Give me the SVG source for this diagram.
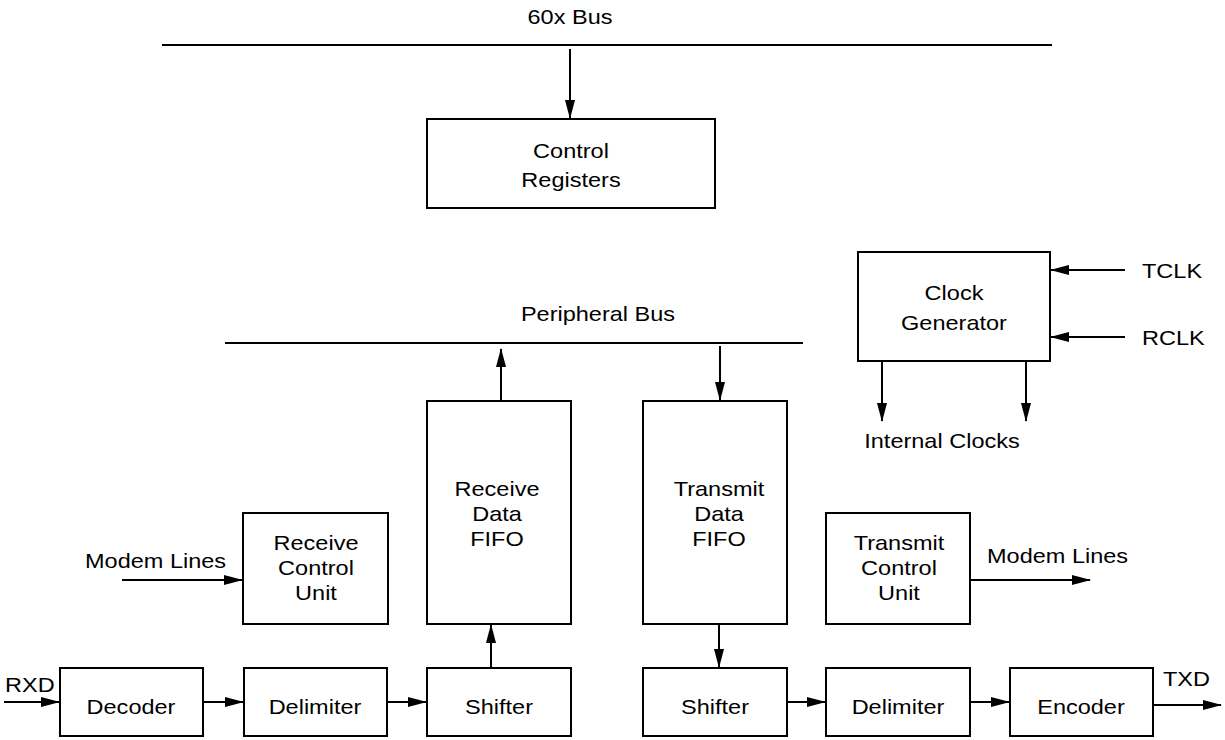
<svg xmlns="http://www.w3.org/2000/svg" width="1225" height="740" viewBox="0 0 1225 740">
<style>
.n{fill:#fff;stroke:#000;stroke-width:2}
line{stroke:#000;stroke-width:2}
.a{marker-end:url(#ah)}
text{font-family:"Liberation Sans",Arial,sans-serif;font-size:21px;fill:#000}
.c{text-anchor:middle}
</style>
<defs>
<marker id="ah" markerWidth="19" markerHeight="10" refX="18" refY="5" orient="auto" markerUnits="userSpaceOnUse">
<path d="M0,0 L19,5 L0,10 Z" fill="#000"/>
</marker>
</defs>
<rect width="1225" height="740" fill="#fff"/>
<g id="connectors">
<line x1="162" y1="45" x2="1052" y2="45"/>
<line class="a" x1="570" y1="49" x2="570" y2="118"/>
<line x1="225" y1="343" x2="803" y2="343"/>
<line class="a" x1="501" y1="401" x2="501" y2="349"/>
<line class="a" x1="720" y1="346" x2="720" y2="400"/>
<line class="a" x1="1125" y1="270" x2="1051" y2="270"/>
<line class="a" x1="1125" y1="337" x2="1051" y2="337"/>
<line class="a" x1="882" y1="361" x2="882" y2="421"/>
<line class="a" x1="1026" y1="361" x2="1026" y2="421"/>
<line class="a" x1="122" y1="580" x2="242" y2="580"/>
<line class="a" x1="970" y1="580" x2="1090" y2="580"/>
<line class="a" x1="4" y1="702" x2="59" y2="702"/>
<line class="a" x1="203" y1="702" x2="243" y2="702"/>
<line class="a" x1="387" y1="702" x2="426" y2="702"/>
<line class="a" x1="491" y1="668" x2="491" y2="625"/>
<line class="a" x1="719" y1="624" x2="719" y2="667"/>
<line class="a" x1="787" y1="702" x2="825" y2="702"/>
<line class="a" x1="970" y1="702" x2="1009" y2="702"/>
<line class="a" x1="1153" y1="705" x2="1221" y2="705"/>
</g>
<g id="labels">
<text class="c" transform="translate(570,24) scale(1.12,1)">60x Bus</text>
<text class="c" transform="translate(598,321) scale(1.12,1)">Peripheral Bus</text>
<text transform="translate(1142,278) scale(1.12,1)">TCLK</text>
<text transform="translate(1142,345) scale(1.12,1)">RCLK</text>
<text class="c" transform="translate(942,448) scale(1.12,1)">Internal Clocks</text>
<text transform="translate(85,568) scale(1.12,1)">Modem Lines</text>
<text transform="translate(987,563) scale(1.12,1)">Modem Lines</text>
<text transform="translate(5,692) scale(1.12,1)">RXD</text>
<text transform="translate(1163,686) scale(1.12,1)">TXD</text>
</g>
<g id="control-registers"><rect class="n" x="427" y="119" width="288" height="89"/><text class="c" transform="translate(571,158) scale(1.12,1)">Control</text><text class="c" transform="translate(571,187) scale(1.12,1)">Registers</text></g>
<g id="clock-generator"><rect class="n" x="858" y="252" width="192" height="109"/><text class="c" transform="translate(954,300) scale(1.12,1)">Clock</text><text class="c" transform="translate(954,330) scale(1.12,1)">Generator</text></g>
<g id="receive-fifo"><rect class="n" x="427" y="401" width="144" height="223"/><text class="c" transform="translate(497,496) scale(1.12,1)">Receive</text><text class="c" transform="translate(497,521) scale(1.12,1)">Data</text><text class="c" transform="translate(497,546) scale(1.12,1)">FIFO</text></g>
<g id="transmit-fifo"><rect class="n" x="643" y="401" width="144" height="223"/><text class="c" transform="translate(719,496) scale(1.12,1)">Transmit</text><text class="c" transform="translate(719,521) scale(1.12,1)">Data</text><text class="c" transform="translate(719,546) scale(1.12,1)">FIFO</text></g>
<g id="receive-control"><rect class="n" x="243" y="513" width="145" height="111"/><text class="c" transform="translate(316,550) scale(1.12,1)">Receive</text><text class="c" transform="translate(316,575) scale(1.12,1)">Control</text><text class="c" transform="translate(316,600) scale(1.12,1)">Unit</text></g>
<g id="transmit-control"><rect class="n" x="826" y="513" width="144" height="111"/><text class="c" transform="translate(899,550) scale(1.12,1)">Transmit</text><text class="c" transform="translate(899,575) scale(1.12,1)">Control</text><text class="c" transform="translate(899,600) scale(1.12,1)">Unit</text></g>
<g id="decoder"><rect class="n" x="60" y="668" width="143" height="68"/><text class="c" transform="translate(131,714) scale(1.12,1)">Decoder</text></g>
<g id="delimiter-rx"><rect class="n" x="244" y="668" width="143" height="68"/><text class="c" transform="translate(315,714) scale(1.12,1)">Delimiter</text></g>
<g id="shifter-rx"><rect class="n" x="427" y="668" width="144" height="68"/><text class="c" transform="translate(499,714) scale(1.12,1)">Shifter</text></g>
<g id="shifter-tx"><rect class="n" x="643" y="668" width="144" height="68"/><text class="c" transform="translate(715,714) scale(1.12,1)">Shifter</text></g>
<g id="delimiter-tx"><rect class="n" x="826" y="668" width="144" height="68"/><text class="c" transform="translate(898,714) scale(1.12,1)">Delimiter</text></g>
<g id="encoder"><rect class="n" x="1010" y="668" width="143" height="68"/><text class="c" transform="translate(1081,714) scale(1.12,1)">Encoder</text></g>
</svg>
